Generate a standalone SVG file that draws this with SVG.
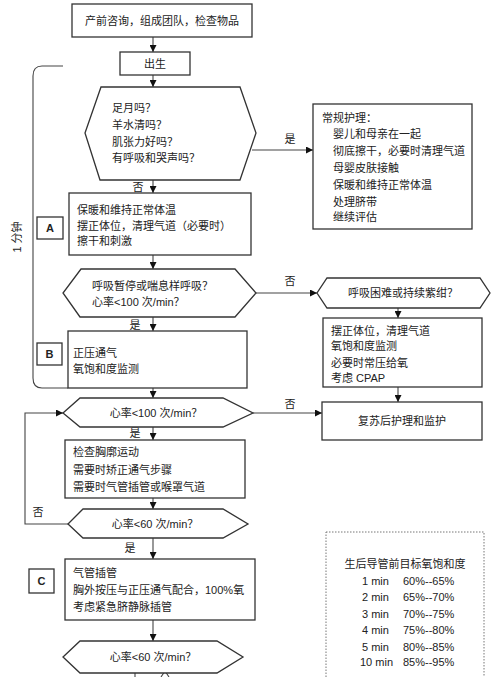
<svg xmlns="http://www.w3.org/2000/svg" width="496" height="677" viewBox="0 0 496 677">
<defs>
<marker id="ah" markerWidth="7" markerHeight="7" refX="7" refY="3.5" orient="auto" markerUnits="userSpaceOnUse"><path d="M0,0 L7,3.5 L0,7 z" fill="#111"/></marker>
<style>
text{font-family:"Liberation Sans","Noto Sans CJK SC",sans-serif;font-size:11px;fill:#222;dominant-baseline:central}
.box{fill:#fff;stroke:#333;stroke-width:1.3}
.lab{font-weight:bold;text-anchor:middle}
.c{text-anchor:middle}
.ln{fill:none;stroke:#444;stroke-width:1.1}
.ar{fill:none;stroke:#444;stroke-width:1.1;marker-end:url(#ah)}
.dot{fill:#fff;stroke:#777;stroke-width:1;stroke-dasharray:1.5,1.5}
</style>
</defs>
<rect width="496" height="677" fill="#fff"/>
<g id="connectors">
<line class="ar" x1="153" y1="37" x2="153" y2="52"/>
<line class="ar" x1="153" y1="75" x2="153" y2="87"/>
<line class="ar" x1="252" y1="150" x2="313" y2="150"/>
<line class="ar" x1="153" y1="180" x2="153" y2="193"/>
<line class="ar" x1="153" y1="255" x2="153" y2="269"/>
<line class="ar" x1="256" y1="293" x2="317" y2="293"/>
<line class="ar" x1="398" y1="308" x2="398" y2="318"/>
<line class="ar" x1="398" y1="387" x2="398" y2="402"/>
<line class="ar" x1="153" y1="317" x2="153" y2="331"/>
<line class="ar" x1="153" y1="388" x2="153" y2="398"/>
<line class="ar" x1="253" y1="413" x2="322" y2="413"/>
<line class="ar" x1="153" y1="427" x2="153" y2="440"/>
<line class="ar" x1="153" y1="498" x2="153" y2="509"/>
<polyline class="ar" points="68,524 25,524 25,413 63,413"/>
<line class="ar" x1="153" y1="538" x2="153" y2="559"/>
<line class="ar" x1="153" y1="620" x2="153" y2="641"/>
<line class="ln" x1="135" y1="673" x2="135" y2="677"/>
<path d="M161,677 L165,671 L169,677" fill="none" stroke="#444" stroke-width="1.1"/>
<path class="ln" d="M63,66 L42,66 Q33,66 33,76 L33,378 Q33,388 42,388 L68,388" stroke-width="1.5"/>
<text x="290" y="139" class="c">是</text>
<text x="138" y="187" class="c">否</text>
<text x="290" y="281" class="c">否</text>
<text x="135" y="325" class="c">是</text>
<text x="290" y="404" class="c">否</text>
<text x="135" y="433" class="c">是</text>
<text x="38" y="512" class="c">否</text>
<text x="130" y="548" class="c">是</text>
<text x="0" y="0" class="c" transform="translate(17,237) rotate(-90)">1 分钟</text>
</g>
<g id="n-prenatal"><rect class="box" x="72" y="4" width="180" height="33"/><text x="162" y="21" class="c">产前咨询，组成团队，检查物品</text></g>
<g id="n-birth"><rect class="box" x="120" y="52" width="70" height="23"/><text x="155" y="64" class="c">出生</text></g>
<g id="n-q1"><polygon class="box" points="101,87 240,87 256,133 240,180 100,180 85,133"/>
<text x="112" y="108">足月吗？</text><text x="112" y="125">羊水清吗？</text><text x="112" y="142">肌张力好吗？</text><text x="112" y="158">有呼吸和哭声吗？</text></g>
<g id="n-routine"><rect class="box" x="313" y="104" width="159" height="125"/>
<text x="322" y="118">常规护理：</text><text x="333" y="134">婴儿和母亲在一起</text><text x="333" y="151">彻底擦干，必要时清理气道</text><text x="333" y="168">母婴皮肤接触</text><text x="333" y="185">保暖和维持正常体温</text><text x="333" y="202">处理脐带</text><text x="333" y="217">继续评估</text></g>
<g id="n-a"><rect class="box" x="69" y="193" width="182" height="62"/>
<text x="77" y="210">保暖和维持正常体温</text><text x="77" y="226">摆正体位，清理气道（必要时）</text><text x="77" y="241">擦干和刺激</text></g>
<g id="n-a-label"><rect class="box" x="37" y="217" width="26" height="22"/><text x="50" y="228" class="lab">A</text></g>
<g id="n-q2"><polygon class="box" points="81,269 235,269 256,293 235,317 80,317 63,293"/>
<text x="92" y="286">呼吸暂停或喘息样呼吸？</text><text x="92" y="302">心率&lt;100 次/min？</text></g>
<g id="n-q3"><polygon class="box" points="327,278 480,278 490,293 480,308 327,308 317,293"/><text x="403" y="293" class="c">呼吸困难或持续紫绀？</text></g>
<g id="n-cpap"><rect class="box" x="323" y="318" width="159" height="69"/>
<text x="331" y="331">摆正体位，清理气道</text><text x="331" y="346">氧饱和度监测</text><text x="331" y="363">必要时常压给氧</text><text x="331" y="378">考虑 CPAP</text></g>
<g id="n-post"><rect class="box" x="322" y="402" width="160" height="38"/><text x="402" y="421" class="c">复苏后护理和监护</text></g>
<g id="n-b"><rect class="box" x="68" y="331" width="179" height="57"/>
<text x="73" y="353">正压通气</text><text x="73" y="369">氧饱和度监测</text></g>
<g id="n-b-label"><rect class="box" x="37" y="343" width="25" height="22"/><text x="49.5" y="354" class="lab">B</text></g>
<g id="n-q4"><polygon class="box" points="80,398 223,398 253,413 223,427 80,427 63,413"/><text x="156" y="413" class="c">心率&lt;100 次/min？</text></g>
<g id="n-check"><rect class="box" x="65" y="440" width="180" height="58"/>
<text x="73" y="452">检查胸廓运动</text><text x="73" y="470">需要时矫正通气步骤</text><text x="73" y="487">需要时气管插管或喉罩气道</text></g>
<g id="n-q5"><polygon class="box" points="83,509 223,509 248,524 223,538 83,538 68,524"/><text x="155" y="524" class="c">心率&lt;60 次/min？</text></g>
<g id="n-c"><rect class="box" x="65" y="559" width="190" height="61"/>
<text x="73" y="573">气管插管</text><text x="73" y="590">胸外按压与正压通气配合，100%氧</text><text x="73" y="607">考虑紧急脐静脉插管</text></g>
<g id="n-c-label"><rect class="box" x="29" y="569" width="25" height="24"/><text x="41.5" y="581" class="lab">C</text></g>
<g id="n-q6"><polygon class="box" points="80,641 217,641 243,657 217,673 80,673 63,657"/><text x="153" y="657" class="c">心率&lt;60 次/min？</text></g>
<g id="n-table"><rect class="dot" x="326" y="532" width="158" height="150"/>
<text x="405" y="564" class="c">生后导管前目标氧饱和度</text>
<text x="362" y="581">1 min</text><text x="403" y="581">60%--65%</text>
<text x="362" y="597">2 min</text><text x="403" y="597">65%--70%</text>
<text x="362" y="614">3 min</text><text x="403" y="614">70%--75%</text>
<text x="362" y="630">4 min</text><text x="403" y="630">75%--80%</text>
<text x="362" y="647">5 min</text><text x="403" y="647">80%--85%</text>
<text x="360" y="662">10 min</text><text x="403" y="662">85%--95%</text></g>
</svg>
